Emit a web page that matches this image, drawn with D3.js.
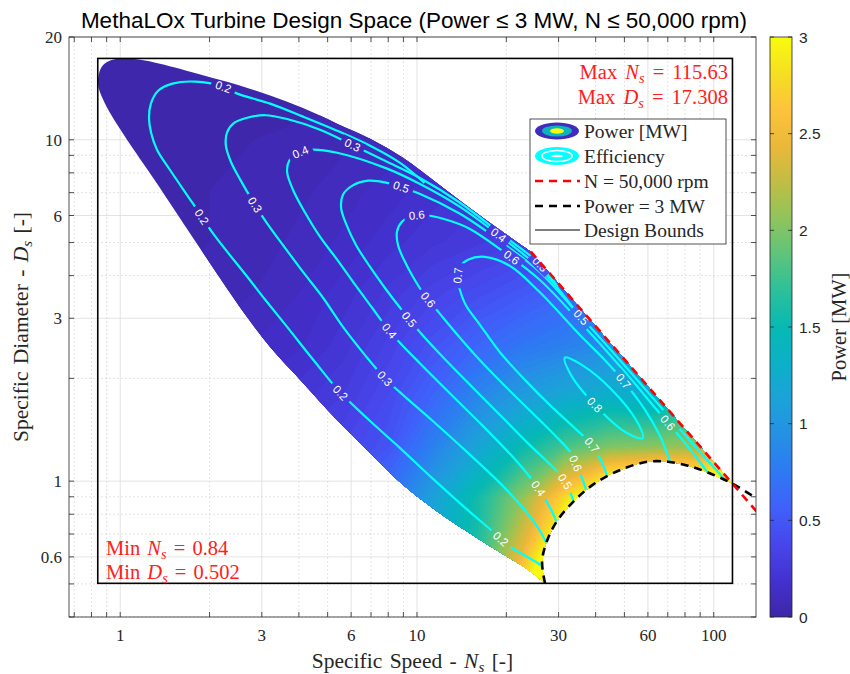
<!DOCTYPE html>
<html>
<head>
<meta charset="utf-8">
<script src="https://cdn.jsdelivr.net/npm/d3@7"></script>
<style>
  body { margin: 0; background: #fff; }
  svg text { white-space: pre; }
  .serif { font-family: "Liberation Serif", "DejaVu Serif", serif; }
  .sans { font-family: "Liberation Sans", Arial, sans-serif; }
</style>
</head>
<body>
<svg id="chart" width="850" height="674"></svg>
<script>
// ---- axes ----
const xTicks = [1, 3, 6, 10, 30, 60, 100];
const yTicks = [0.6, 1, 3, 6, 10, 20];
const xMinor = [0.7, 0.8, 0.9, 2, 4, 5, 7, 8, 9, 20, 40, 50, 70, 80, 90];
const yMinor = [0.4, 0.5, 0.7, 0.8, 0.9, 2, 4, 5, 7, 8, 9];
const cbTicks = [0, 0.5, 1, 1.5, 2, 2.5, 3];

// ---- design bounds (min / max of the feasible space) ----
const boundsNs = [0.84, 115.63];
const boundsDs = [0.502, 17.308];

// ---- edges of the feasible region ----
const upperEdgeNs = [0.842, 0.855, 0.885, 0.93, 0.99, 1.06, 1.17, 1.36, 1.90, 2.48, 3.20, 4.13, 5.38, 6.95, 8.97, 11.4, 14.7, 19.2, 24.2];
const upperEdgeDs = [15.0, 16.0, 16.7, 17.1, 17.3, 17.3, 17.15, 16.7, 15.46, 14.5, 13.47, 12.38, 11.15, 10.07, 8.86, 7.59, 6.41, 5.41, 4.70];
const lowerEdgeNs = [27.0, 23.5, 19.0, 14.7, 11.3, 8.77, 6.95, 5.38, 4.13, 3.20, 2.60, 2.17, 1.68, 1.29, 1.123, 1.0, 0.911, 0.870, 0.846, 0.842];
const lowerEdgeDs = [0.502, 0.552, 0.619, 0.713, 0.833, 0.993, 1.21, 1.51, 1.94, 2.47, 3.13, 3.93, 5.48, 7.74, 9.22, 10.74, 12.25, 13.28, 14.2, 15.0];

// N = 50,000 rpm limit
const rpmNs = [24.2, 145];
const rpmDs = [4.70, 0.784];

// Power = 3 MW limit
const p3Ns = [27.0, 26.4, 27.4, 29.6, 33.8, 39.4, 48.6, 59.9, 70.0, 81.8, 95.5, 115.63, 142];
const p3Ds = [0.502, 0.582, 0.667, 0.763, 0.874, 0.980, 1.08, 1.14, 1.14, 1.11, 1.06, 0.983, 0.88];

// ---- efficiency contours ----
const effLevels = [0.2, 0.3, 0.4, 0.5, 0.6, 0.7, 0.8];
const eff02Ns = [27.6, 26.2, 24.0, 21.2, 19.2, 17.8, 14.7, 11.4, 8.77, 6.95, 5.51, 4.54, 3.65, 3.08, 2.68, 2.06, 1.75, 1.47, 1.33, 1.27, 1.25, 1.27, 1.34, 1.50, 1.79, 2.22, 2.48, 3.20, 4.13, 5.38, 6.95, 8.77, 10.6];
const eff02Ds = [0.541, 0.567, 0.594, 0.632, 0.676, 0.718, 0.828, 1.01, 1.25, 1.50, 1.82, 2.23, 2.83, 3.40, 3.97, 5.30, 6.54, 8.17, 9.35, 10.5, 11.6, 12.8, 13.9, 14.6, 14.8, 14.3, 13.65, 12.76, 11.69, 10.63, 9.61, 8.56, 7.48];
const eff03Ns = [28.5, 27.6, 25.9, 23.1, 19.2, 14.7, 11.4, 8.77, 7.80, 6.68, 5.63, 4.83, 4.13, 3.57, 3.10, 2.78, 2.54, 2.36, 2.27, 2.29, 2.42, 2.68, 3.08, 3.65, 4.71, 6.04, 7.80, 10.2, 13.96, 19.0, 25.9, 29.8];
const eff03Ds = [0.603, 0.645, 0.718, 0.822, 0.980, 1.22, 1.49, 1.82, 2.00, 2.34, 2.83, 3.44, 4.10, 4.86, 5.75, 6.67, 7.63, 8.62, 9.61, 10.5, 11.2, 11.6, 11.8, 11.5, 10.7, 9.67, 8.68, 7.74, 6.54, 5.34, 4.33, 3.71];
const eff04Ns = [30.3, 29.4, 27.8, 25.9, 23.6, 20.6, 16.3, 12.9, 10.2, 8.77, 7.93, 7.06, 6.23, 5.42, 4.71, 4.20, 3.82, 3.65, 3.71, 3.94, 4.36, 5.38, 7.93, 10.2, 13.96, 19.0, 25.9, 30.3, 34.0];
const eff04Ds = [0.709, 0.768, 0.850, 0.941, 1.048, 1.20, 1.48, 1.81, 2.22, 2.54, 2.81, 3.22, 3.73, 4.42, 5.20, 6.11, 7.14, 8.06, 8.68, 9.10, 9.35, 9.16, 8.23, 7.43, 6.36, 5.23, 4.21, 3.61, 3.17];
const eff05Ns = [34.6, 33.3, 31.8, 29.8, 27.6, 24.0, 19.8, 15.7, 12.4, 10.2, 8.77, 7.80, 6.95, 6.23, 5.77, 5.55, 5.63, 6.04, 6.84, 7.93, 10.2, 13.96, 19.0, 25.9, 35.4, 48.3, 65.8, 89.7, 117.7];
const eff05Ds = [0.811, 0.898, 0.987, 1.063, 1.137, 1.275, 1.51, 1.85, 2.28, 2.74, 3.22, 3.68, 4.24, 4.92, 5.67, 6.32, 6.90, 7.33, 7.59, 7.48, 6.95, 6.07, 5.06, 4.10, 3.05, 2.26, 1.66, 1.22, 0.941];
const eff06Ns = [37.6, 36.2, 34.8, 32.75, 29.2, 24.0, 19.8, 16.3, 13.7, 11.95, 10.6, 9.69, 9.04, 8.63, 8.56, 8.90, 9.69, 11.06, 12.9, 15.08, 19.0, 25.9, 35.4, 48.3, 65.8, 76.8, 89.7, 98.5];
const eff06Ds = [0.910, 1.007, 1.09, 1.22, 1.36, 1.61, 1.90, 2.26, 2.68, 3.09, 3.51, 3.97, 4.45, 4.92, 5.37, 5.75, 5.99, 5.99, 5.79, 5.48, 4.79, 3.89, 2.93, 2.17, 1.58, 1.35, 1.14, 1.02];
const eff07Ns = [44.3, 43.0, 41.3, 38.8, 34.0, 28.05, 23.1, 19.0, 16.3, 14.6, 13.96, 13.7, 13.96, 14.85, 16.9, 20.6, 25.9, 35.4, 43.0, 50.2, 58.6, 65.8, 70.0, 72.8];
const eff07Ds = [0.980, 1.08, 1.17, 1.28, 1.43, 1.67, 1.98, 2.39, 2.87, 3.28, 3.63, 3.94, 4.24, 4.45, 4.54, 4.27, 3.58, 2.68, 2.26, 1.94, 1.62, 1.36, 1.19, 1.08];
const eff08Ns = [57.7, 55.0, 45.4, 35.9, 31.5, 33.0, 40.1, 50.5];
const eff08Ds = [1.337, 1.50, 1.85, 2.19, 2.30, 2.05, 1.66, 1.39];

// inline contour labels
const labelLevel = [0.2, 0.2, 0.2, 0.2, 0.3, 0.3, 0.3, 0.3, 0.4, 0.4, 0.4, 0.4, 0.5, 0.5, 0.5, 0.5, 0.6, 0.6, 0.6, 0.6, 0.6, 0.7, 0.7, 0.7, 0.8];
const labelNs = [2.22, 1.90, 5.51, 19.2, 6.04, 2.78, 7.80, 25.6, 4.04, 7.93, 25.6, 18.6, 8.77, 9.47, 31.5, 35.4, 10.0, 11.0, 34.3, 21.0, 70.0, 13.85, 38.8, 50.2, 39.8];
const labelDs = [14.3, 5.99, 1.82, 0.676, 9.5, 6.36, 2.00, 4.27, 9.22, 2.72, 0.954, 5.20, 7.14, 2.99, 1.0, 3.01, 6.15, 3.42, 1.13, 4.54, 1.48, 3.99, 1.28, 1.98, 1.68];

// ---- power field [MW], sampled on a log grid (rows from top Ds to bottom Ds) ----
const gridNs = [0.708, 1, 1.41, 2, 2.82, 3.98, 5.62, 7.94, 11.2, 15.8, 22.4, 31.6, 44.7, 63.1, 89.1, 126];
const gridDs = [20, 14.1, 10, 7.08, 5.01, 3.55, 2.51, 1.78, 1.26, 0.891, 0.631, 0.447];
const powerGrid = [
  [0, 0, 0, 0, 0, 0, 0, 0, 0, 0, 0, 0, 0, 0, 0, 0],
  [0, 0, 0, 0.01, 0.01, 0.02, 0.02, 0.03, 0.04, 0.05, 0.06, 0.07, 0.08, 0.09, 0.1, 0.1],
  [0, 0.01, 0.02, 0.03, 0.04, 0.05, 0.07, 0.09, 0.11, 0.13, 0.15, 0.17, 0.19, 0.21, 0.23, 0.25],
  [0, 0.01, 0.02, 0.04, 0.05, 0.07, 0.1, 0.14, 0.18, 0.22, 0.26, 0.3, 0.34, 0.38, 0.42, 0.46],
  [0, 0.01, 0.03, 0.04, 0.06, 0.09, 0.13, 0.18, 0.23, 0.27, 0.32, 0.38, 0.44, 0.5, 0.55, 0.6],
  [0.01, 0.02, 0.04, 0.06, 0.08, 0.12, 0.18, 0.25, 0.34, 0.42, 0.5, 0.6, 0.7, 0.78, 0.86, 0.95],
  [0.02, 0.04, 0.06, 0.09, 0.12, 0.15, 0.22, 0.33, 0.46, 0.6, 0.72, 0.8, 0.9, 1.05, 1.2, 1.4],
  [0.04, 0.07, 0.1, 0.14, 0.18, 0.22, 0.28, 0.4, 0.6, 0.85, 1.05, 1.2, 1.3, 1.25, 1.5, 2.0],
  [0.08, 0.12, 0.16, 0.2, 0.25, 0.3, 0.36, 0.47, 0.8, 1.15, 1.5, 1.8, 2.0, 2.05, 2.1, 2.5],
  [0.2, 0.25, 0.3, 0.35, 0.4, 0.45, 0.55, 0.7, 1.1, 1.55, 2.05, 2.8, 3.6, 3.9, 3.7, 3.3],
  [0.3, 0.35, 0.4, 0.45, 0.5, 0.6, 0.7, 0.9, 1.2, 1.6, 2.4, 3.5, 4, 4, 4, 4],
  [0.4, 0.45, 0.5, 0.55, 0.6, 0.7, 0.8, 0.95, 1.3, 1.9, 3.0, 3.8, 4, 4, 4, 4]
];

// parula colormap stops, 0 .. 3 MW
const parula = ['#3e26a8', '#4331d0', '#4746eb', '#4060fa', '#2e79f4', '#2590e4', '#1ca2d9', '#0cb0c8',
  '#07b9b3', '#2cc09b', '#5dc47b', '#90c45c', '#c1bd44', '#eab83a', '#fdc33b', '#f5df22', '#f9fb0e'];

// ---------------------------------------------------------------
const svg = d3.select('#chart');
const defs = svg.append('defs');

const plot = { left: 69, right: 756, top: 37, bottom: 617 };
const x = d3.scaleLog().domain([0.672, 138.8]).range([plot.left, plot.right]);
const y = d3.scaleLog().domain([0.4, 20]).range([plot.bottom, plot.top]);
const color = d3.scaleLinear()
  .domain(parula.map((c, i) => 3 * i / (parula.length - 1)))
  .range(parula).interpolate(d3.interpolateRgb).clamp(true);

const axisColor = '#262626';

defs.append('clipPath').attr('id', 'plotClip')
  .append('rect').attr('x', plot.left).attr('y', plot.top)
  .attr('width', plot.right - plot.left).attr('height', plot.bottom - plot.top);

// grid
const grid = svg.append('g');
grid.selectAll('.xmin').data(xMinor).join('line')
  .attr('x1', d => x(d)).attr('x2', d => x(d)).attr('y1', plot.top).attr('y2', plot.bottom)
  .attr('stroke', '#cfcfcf').attr('stroke-width', 0.6).attr('stroke-dasharray', '2,2');
grid.selectAll('.ymin').data(yMinor).join('line')
  .attr('y1', d => y(d)).attr('y2', d => y(d)).attr('x1', plot.left).attr('x2', plot.right)
  .attr('stroke', '#cfcfcf').attr('stroke-width', 0.6).attr('stroke-dasharray', '2,2');
grid.selectAll('.xmaj').data(xTicks).join('line')
  .attr('x1', d => x(d)).attr('x2', d => x(d)).attr('y1', plot.top).attr('y2', plot.bottom)
  .attr('stroke', '#dcdcdc').attr('stroke-width', 0.8);
grid.selectAll('.ymaj').data(yTicks).join('line')
  .attr('y1', d => y(d)).attr('y2', d => y(d)).attr('x1', plot.left).attr('x2', plot.right)
  .attr('stroke', '#dcdcdc').attr('stroke-width', 0.8);

// feasible region outline, used as clip
const curve = d3.line().x(d => x(d[0])).y(d => y(d[1])).curve(d3.curveCatmullRom.alpha(0.5));
const upperPts = d3.zip(upperEdgeNs, upperEdgeDs);
const tipIdx = p3Ns.indexOf(boundsNs[1]);
const p3Inner = d3.zip(p3Ns, p3Ds).slice(0, tipIdx + 1).reverse();
const lowerPts = d3.zip(lowerEdgeNs, lowerEdgeDs);
const regionD = curve(upperPts) + curve(p3Inner).replace(/^M/, 'L') + curve(lowerPts).replace(/^M/, 'L') + 'Z';
defs.append('clipPath').attr('id', 'regionClip').append('path').attr('d', regionD);

// power field as filled contour bands
const nx = gridNs.length, ny = gridDs.length;
const bands = d3.contours().size([nx, ny]).thresholds(d3.range(0, 3, 0.04))(powerGrid.flat());
const gx = d3.scaleLinear().domain([0.5, nx - 0.5]).range([x(gridNs[0]), x(gridNs[nx - 1])]);
const gy = d3.scaleLinear().domain([0.5, ny - 0.5]).range([y(gridDs[0]), y(gridDs[ny - 1])]);
const gridPath = d3.geoPath(d3.geoTransform({ point(px, py) { this.stream.point(gx(px), gy(py)); } }));
svg.append('g').attr('clip-path', 'url(#regionClip)')
  .selectAll('path').data(bands).join('path')
  .attr('d', gridPath)
  .attr('fill', d => color(d.value + 0.02))
  .attr('stroke', d => color(d.value + 0.02)).attr('stroke-width', 0.4);

// efficiency contours
const effNs = [eff02Ns, eff03Ns, eff04Ns, eff05Ns, eff06Ns, eff07Ns, eff08Ns];
const effDs = [eff02Ds, eff03Ds, eff04Ds, eff05Ds, eff06Ds, eff07Ds, eff08Ds];
const closedCurve = d3.line().x(d => x(d[0])).y(d => y(d[1])).curve(d3.curveCatmullRomClosed.alpha(0.5));

const mask = defs.append('mask').attr('id', 'labelMask').attr('maskUnits', 'userSpaceOnUse')
  .attr('x', 0).attr('y', 0).attr('width', 850).attr('height', 674);
mask.append('rect').attr('width', 850).attr('height', 674).attr('fill', '#fff');

const effOuter = svg.append('g').attr('clip-path', 'url(#regionClip)');
const effG = effOuter.append('g').attr('mask', 'url(#labelMask)');
const effPaths = {};
effLevels.forEach((lev, k) => {
  const pts = d3.zip(effNs[k], effDs[k]);
  const p = effG.append('path')
    .attr('d', lev === 0.8 ? closedCurve(pts) : curve(pts))
    .attr('fill', 'none').attr('stroke', '#00ffff').attr('stroke-width', 2.2);
  effPaths[lev] = p.node();
});

const labelG = svg.append('g');
labelLevel.forEach((lev, i) => {
  const node = effPaths[lev];
  const total = node.getTotalLength();
  const tx = x(labelNs[i]), ty = y(labelDs[i]);
  let best = 0, bestD = Infinity;
  for (let l = 0; l <= total; l += 1) {
    const p = node.getPointAtLength(l);
    const d = (p.x - tx) ** 2 + (p.y - ty) ** 2;
    if (d < bestD) { bestD = d; best = l; }
  }
  const pc = node.getPointAtLength(best);
  const p0 = node.getPointAtLength(Math.max(0, best - 5));
  const p1 = node.getPointAtLength(Math.min(total, best + 5));
  let ang = Math.atan2(p1.y - p0.y, p1.x - p0.x) * 180 / Math.PI;
  if (ang > 90) ang -= 180;
  if (ang < -90) ang += 180;
  mask.append('rect').attr('x', -12.5).attr('y', -6).attr('width', 25).attr('height', 12)
    .attr('fill', '#000').attr('transform', `translate(${pc.x},${pc.y}) rotate(${ang})`);
  labelG.append('text').attr('class', 'sans')
    .attr('transform', `translate(${pc.x},${pc.y}) rotate(${ang})`)
    .attr('text-anchor', 'middle').attr('dy', '0.36em')
    .attr('font-size', 11.5).attr('fill', '#fff')
    .text(lev.toFixed(1));
});

// limit lines
const straight = d3.line().x(d => x(d[0])).y(d => y(d[1]));
const limits = svg.append('g').attr('clip-path', 'url(#plotClip)');
limits.append('path').attr('d', curve(d3.zip(p3Ns, p3Ds)))
  .attr('fill', 'none').attr('stroke', '#000').attr('stroke-width', 2.6).attr('stroke-dasharray', '8,6');
limits.append('path').attr('d', straight(d3.zip(rpmNs, rpmDs)))
  .attr('fill', 'none').attr('stroke', '#ff0000').attr('stroke-width', 2.6).attr('stroke-dasharray', '8,6');

// design bounds
svg.append('rect')
  .attr('x', x(boundsNs[0])).attr('y', y(boundsDs[1]))
  .attr('width', x(boundsNs[1]) - x(boundsNs[0])).attr('height', y(boundsDs[0]) - y(boundsDs[1]))
  .attr('fill', 'none').attr('stroke', '#000').attr('stroke-width', 1.6);

// axes box and ticks
const ax = svg.append('g');
ax.append('rect').attr('x', plot.left).attr('y', plot.top)
  .attr('width', plot.right - plot.left).attr('height', plot.bottom - plot.top)
  .attr('fill', 'none').attr('stroke', axisColor).attr('stroke-width', 0.8);
const tk = 5;
xTicks.concat(xMinor).filter(d => x(d) >= plot.left).forEach(d => {
  ax.append('line').attr('x1', x(d)).attr('x2', x(d)).attr('y1', plot.bottom).attr('y2', plot.bottom - tk).attr('stroke', axisColor).attr('stroke-width', 0.8);
  ax.append('line').attr('x1', x(d)).attr('x2', x(d)).attr('y1', plot.top).attr('y2', plot.top + tk).attr('stroke', axisColor).attr('stroke-width', 0.8);
});
yTicks.concat(yMinor).forEach(d => {
  ax.append('line').attr('y1', y(d)).attr('y2', y(d)).attr('x1', plot.left).attr('x2', plot.left + tk).attr('stroke', axisColor).attr('stroke-width', 0.8);
  ax.append('line').attr('y1', y(d)).attr('y2', y(d)).attr('x1', plot.right).attr('x2', plot.right - tk).attr('stroke', axisColor).attr('stroke-width', 0.8);
});
ax.selectAll('.xl').data(xTicks).join('text').attr('class', 'serif')
  .attr('x', d => x(d)).attr('y', 641).attr('text-anchor', 'middle')
  .attr('font-size', 17).attr('fill', axisColor).text(d => d);
ax.selectAll('.yl').data(yTicks).join('text').attr('class', 'serif')
  .attr('x', 62).attr('y', d => y(d) + 6).attr('text-anchor', 'end')
  .attr('font-size', 17).attr('fill', axisColor).text(d => d);

// math-style text helper: parts = [text, style]
function mathText(t, parts) {
  parts.forEach(([s, st]) => {
    const ts = t.append('tspan').text(s);
    if (st === 'i') ts.attr('font-style', 'italic');
    if (st === 'sub') ts.attr('font-style', 'italic').attr('font-size', '0.7em').attr('dy', '0.25em');
    if (st === 'after') ts.attr('dy', '-0.175em');
  });
  return t;
}

// axis titles
mathText(svg.append('text').attr('class', 'serif').attr('x', (plot.left + plot.right) / 2).attr('y', 668)
  .attr('text-anchor', 'middle').attr('font-size', 21.5).attr('word-spacing', 2).attr('fill', axisColor),
  [['Specific Speed - '], ['N', 'i'], ['s', 'sub'], [' [-]', 'after']]);
mathText(svg.append('text').attr('class', 'serif')
  .attr('transform', `translate(28,${(plot.top + plot.bottom) / 2}) rotate(-90)`)
  .attr('text-anchor', 'middle').attr('font-size', 21.5).attr('word-spacing', 2).attr('fill', axisColor),
  [['Specific Diameter - '], ['D', 'i'], ['s', 'sub'], [' [-]', 'after']]);

// title
svg.append('text').attr('class', 'sans').attr('x', 414).attr('y', 28).attr('text-anchor', 'middle')
  .attr('font-size', 22.5).attr('fill', '#000')
  .text('MethaLOx Turbine Design Space (Power \u2264 3 MW, N \u2264 50,000 rpm)');

// min / max annotations
const red = '#ff2020';
const annFont = 20.5;
mathText(svg.append('text').attr('class', 'serif').attr('x', 728).attr('y', 79).attr('text-anchor', 'end')
  .attr('font-size', annFont).attr('word-spacing', 3).attr('fill', red),
  [['Max '], ['N', 'i'], ['s', 'sub'], [' = ' + boundsNs[1], 'after']]);
mathText(svg.append('text').attr('class', 'serif').attr('x', 728).attr('y', 104).attr('text-anchor', 'end')
  .attr('font-size', annFont).attr('word-spacing', 3).attr('fill', red),
  [['Max '], ['D', 'i'], ['s', 'sub'], [' = ' + boundsDs[1], 'after']]);
mathText(svg.append('text').attr('class', 'serif').attr('x', 106).attr('y', 555)
  .attr('font-size', annFont).attr('word-spacing', 2).attr('fill', red),
  [['Min '], ['N', 'i'], ['s', 'sub'], [' = ' + boundsNs[0], 'after']]);
mathText(svg.append('text').attr('class', 'serif').attr('x', 106).attr('y', 579)
  .attr('font-size', annFont).attr('word-spacing', 2).attr('fill', red),
  [['Min '], ['D', 'i'], ['s', 'sub'], [' = ' + boundsDs[0], 'after']]);

// legend
const lg = svg.append('g');
lg.append('rect').attr('x', 530).attr('y', 119).attr('width', 196).attr('height', 125)
  .attr('fill', '#fff').attr('stroke', axisColor).attr('stroke-width', 0.8);
const rows = [131, 156, 181, 206, 230];
const legendText = ['Power [MW]', 'Efficiency', 'N = 50,000 rpm', 'Power = 3 MW', 'Design Bounds'];
lg.append('ellipse').attr('cx', 557).attr('cy', rows[0]).attr('rx', 22).attr('ry', 8.5).attr('fill', color(0.1));
lg.append('ellipse').attr('cx', 557).attr('cy', rows[0]).attr('rx', 15).attr('ry', 5.5).attr('fill', color(1.4));
lg.append('ellipse').attr('cx', 557).attr('cy', rows[0]).attr('rx', 7).attr('ry', 2.8).attr('fill', color(3));
lg.append('ellipse').attr('cx', 557).attr('cy', rows[1]).attr('rx', 22).attr('ry', 9).attr('fill', '#00ffff');
lg.append('ellipse').attr('cx', 557).attr('cy', rows[1]).attr('rx', 15).attr('ry', 5.5).attr('fill', 'none').attr('stroke', '#fff').attr('stroke-width', 1.6);
lg.append('ellipse').attr('cx', 557).attr('cy', rows[1]).attr('rx', 6).attr('ry', 1.3).attr('fill', '#fff');
lg.append('line').attr('x1', 535).attr('x2', 580).attr('y1', rows[2]).attr('y2', rows[2])
  .attr('stroke', '#ff0000').attr('stroke-width', 2.6).attr('stroke-dasharray', '8,6');
lg.append('line').attr('x1', 535).attr('x2', 580).attr('y1', rows[3]).attr('y2', rows[3])
  .attr('stroke', '#000').attr('stroke-width', 2.6).attr('stroke-dasharray', '8,6');
lg.append('line').attr('x1', 535).attr('x2', 580).attr('y1', rows[4]).attr('y2', rows[4])
  .attr('stroke', '#000').attr('stroke-width', 1.2);
lg.selectAll('.lt').data(legendText).join('text').attr('class', 'serif')
  .attr('x', 584).attr('y', (d, i) => rows[i] + 6.5)
  .attr('font-size', 19.5).attr('fill', axisColor).text(d => d);

// colorbar
const cbX = 770, cbW = 22;
const cb = d3.scaleLinear().domain([0, 3]).range([plot.bottom, plot.top]);
const grad = defs.append('linearGradient').attr('id', 'cbGrad')
  .attr('x1', 0).attr('y1', 1).attr('x2', 0).attr('y2', 0);
parula.forEach((c, i) => grad.append('stop').attr('offset', i / (parula.length - 1)).attr('stop-color', c));
svg.append('rect').attr('x', cbX).attr('y', plot.top).attr('width', cbW).attr('height', plot.bottom - plot.top)
  .attr('fill', 'url(#cbGrad)').attr('stroke', axisColor).attr('stroke-width', 0.8);
cbTicks.forEach(t => {
  svg.append('line').attr('x1', cbX + cbW).attr('x2', cbX + cbW - 4).attr('y1', cb(t)).attr('y2', cb(t))
    .attr('stroke', axisColor).attr('stroke-width', 0.8);
  svg.append('line').attr('x1', cbX).attr('x2', cbX + 4).attr('y1', cb(t)).attr('y2', cb(t))
    .attr('stroke', axisColor).attr('stroke-width', 0.8);
});
svg.selectAll('.cbl').data(cbTicks).join('text').attr('class', 'sans')
  .attr('x', 799).attr('y', d => cb(d) + 5.5).attr('font-size', 15.5).attr('fill', axisColor).text(d => d);
svg.append('text').attr('class', 'serif')
  .attr('transform', `translate(846,${(plot.top + plot.bottom) / 2}) rotate(-90)`)
  .attr('text-anchor', 'middle').attr('font-size', 20.5).attr('fill', axisColor).text('Power [MW]');
</script>
</body>
</html>
